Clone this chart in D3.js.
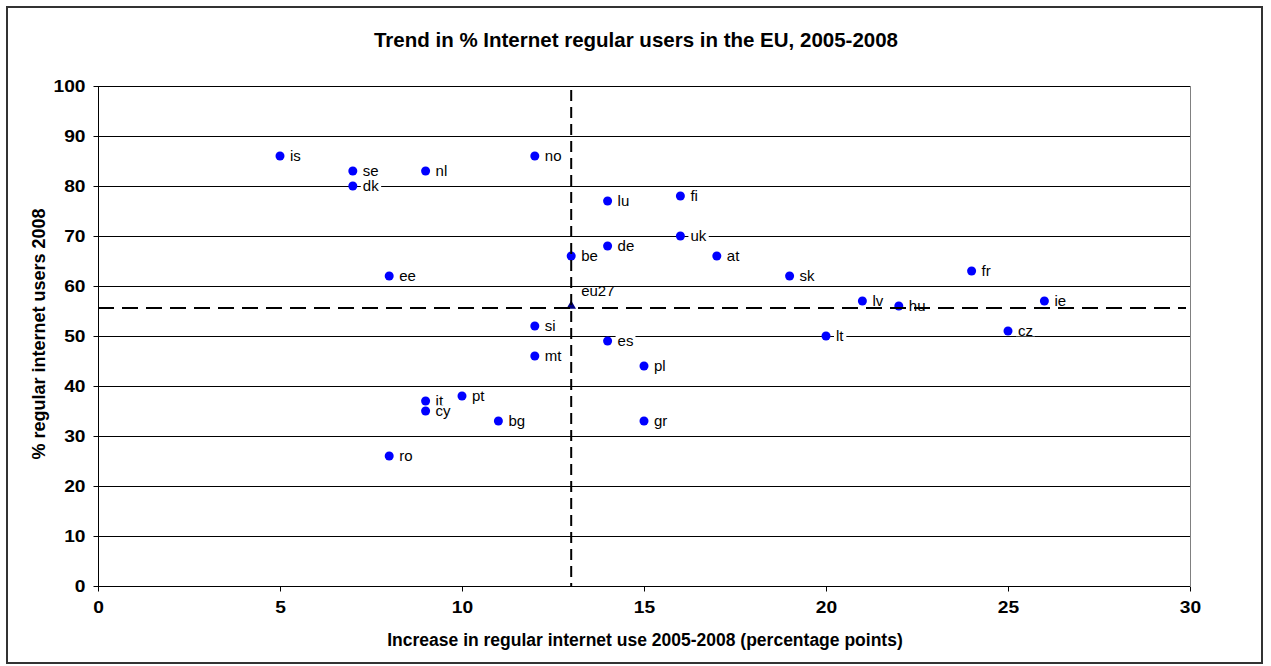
<!DOCTYPE html>
<html>
<head>
<meta charset="utf-8">
<script src="https://cdn.jsdelivr.net/npm/d3@7"></script>
<style>
  html, body { margin: 0; padding: 0; background: #fff; }
  svg { display: block; font-family: "Liberation Sans", Arial, sans-serif; }
</style>
</head>
<body>
<svg id="chart" width="1271" height="666"></svg>
<script>
// Country codes, increase 2005-2008 (pp) and share of regular users in 2008 (%)
const countries = ["is","se","dk","nl","no","lu","fi","uk","de","be","at","ee","sk","fr","lv","hu","ie","si","lt","cz","es","mt","pl","it","pt","cy","bg","gr","ro"];
const increase  = [5, 7, 7, 9, 12, 14, 16, 16, 14, 13, 17, 8, 19, 24, 21, 22, 26, 12, 20, 25, 14, 12, 15, 9, 10, 9, 11, 15, 8];
const users2008 = [86, 83, 80, 83, 86, 77, 78, 70, 68, 66, 66, 62, 62, 63, 57, 56, 57, 52, 50, 51, 49, 46, 44, 37, 38, 35, 33, 33, 26];

// EU27 average point and the reference lines through it
const euLabel = "eu27";
const euIncrease = 13;
const euUsers = 56;
const refX = 13;
const refY = 55.6;

const xTicks = [0, 5, 10, 15, 20, 25, 30];
const yTicks = [0, 10, 20, 30, 40, 50, 60, 70, 80, 90, 100];

const title = "Trend in % Internet regular users in the EU, 2005-2008";
const xTitle = "Increase in regular internet use 2005-2008 (percentage points)";
const yTitle = "% regular internet users 2008";

const svg = d3.select("#chart");
const plot = { left: 98, right: 1190, top: 86, bottom: 586 };

const x = d3.scaleLinear().domain([0, 30]).range([plot.left, plot.right]);
const y = d3.scaleLinear().domain([0, 100]).range([plot.bottom, plot.top]);

// outer frame
svg.append("rect")
  .attr("x", 7).attr("y", 7).attr("width", 1255).attr("height", 656)
  .attr("fill", "#fff").attr("stroke", "#333").attr("stroke-width", 2);

// horizontal gridlines
svg.append("g").selectAll("line").data(yTicks.filter(d => d > 0)).join("line")
  .attr("x1", plot.left).attr("x2", plot.right)
  .attr("y1", d => Math.round(y(d)) + 0.5).attr("y2", d => Math.round(y(d)) + 0.5)
  .attr("stroke", "#000").attr("stroke-width", 1);

// right border of the plot area
svg.append("line")
  .attr("x1", plot.right + 0.5).attr("x2", plot.right + 0.5)
  .attr("y1", plot.top).attr("y2", plot.bottom)
  .attr("stroke", "#808080").attr("stroke-width", 1);

// axes
const tickStretch = 1.2;
const xAxis = svg.append("g")
  .attr("transform", `translate(0,${plot.bottom + 0.5})`)
  .call(d3.axisBottom(x).tickValues(xTicks).tickSize(5).tickPadding(10).tickFormat(d3.format("d")));
const yAxis = svg.append("g")
  .attr("transform", `translate(${plot.left + 0.5},0)`)
  .call(d3.axisLeft(y).tickValues(yTicks).tickSize(5).tickPadding(8).tickFormat(d3.format("d")));

[xAxis, yAxis].forEach(g => {
  g.select(".domain").attr("stroke", "#000").attr("stroke-width", 1);
  g.selectAll(".tick line").attr("stroke", "#000");
  g.selectAll(".tick text")
    .attr("fill", "#000")
    .style("font-family", "'Liberation Sans', Arial, sans-serif")
    .style("font-size", "16px").style("font-weight", "bold");
});
// wide, bold tick numerals
xAxis.selectAll(".tick text").attr("transform", `scale(${tickStretch},1)`);
yAxis.selectAll(".tick text")
  .attr("x", -13 / tickStretch)
  .attr("transform", `scale(${tickStretch},1)`);
xAxis.select(".domain").attr("d", `M${plot.left},0H${plot.right}`);
yAxis.select(".domain").attr("d", `M0,${plot.bottom}V${plot.top}`);

// point labels, on white boxes so gridlines break behind them
const data = countries.map((c, i) => ({ code: c, x: increase[i], y: users2008[i] }));
const labelG = svg.append("g");
data.forEach(d => {
  const t = labelG.append("text")
    .attr("x", x(d.x) + 10).attr("y", y(d.y))
    .attr("dy", "0.35em")
    .style("font-size", "15px").attr("fill", "#000")
    .text(d.code);
  const bb = t.node().getBBox();
  labelG.insert("rect", () => t.node())
    .attr("x", bb.x - 2).attr("y", bb.y + 3).attr("width", bb.width + 4).attr("height", bb.height - 6)
    .attr("fill", "#fff");
});
labelG.append("text")
  .attr("x", x(euIncrease) + 10).attr("y", y(euUsers) - 10)
  .style("font-size", "15px").attr("fill", "#000")
  .text(euLabel);

// country points
svg.append("g").selectAll("circle").data(data).join("circle")
  .attr("cx", d => x(d.x)).attr("cy", d => y(d.y)).attr("r", 4.5)
  .attr("fill", "#0000ff");

// EU27 marker
svg.append("path")
  .attr("d", d3.symbol(d3.symbolTriangle, 40)())
  .attr("transform", `translate(${x(euIncrease)},${y(euUsers)})`)
  .attr("fill", "#000080");

// dashed reference lines through the EU27 average
svg.append("line")
  .attr("x1", x(refX)).attr("x2", x(refX))
  .attr("y1", y(100) + 4).attr("y2", y(0))
  .attr("stroke", "#000").attr("stroke-width", 2).attr("stroke-dasharray", "11,6");
svg.append("line")
  .attr("x1", plot.left).attr("x2", plot.right - 4)
  .attr("y1", y(refY)).attr("y2", y(refY))
  .attr("stroke", "#000").attr("stroke-width", 2).attr("stroke-dasharray", "16,8");

// titles
svg.append("text")
  .attr("x", 636).attr("y", 47).attr("text-anchor", "middle")
  .style("font-size", "20.5px").style("font-weight", "bold")
  .text(title);
svg.append("text")
  .attr("x", 645).attr("y", 646).attr("text-anchor", "middle")
  .style("font-size", "17.5px").style("font-weight", "bold")
  .text(xTitle);
svg.append("text")
  .attr("transform", `translate(45,334) rotate(-90)`)
  .attr("text-anchor", "middle")
  .style("font-size", "18px").style("font-weight", "bold")
  .text(yTitle);
</script>
</body>
</html>
